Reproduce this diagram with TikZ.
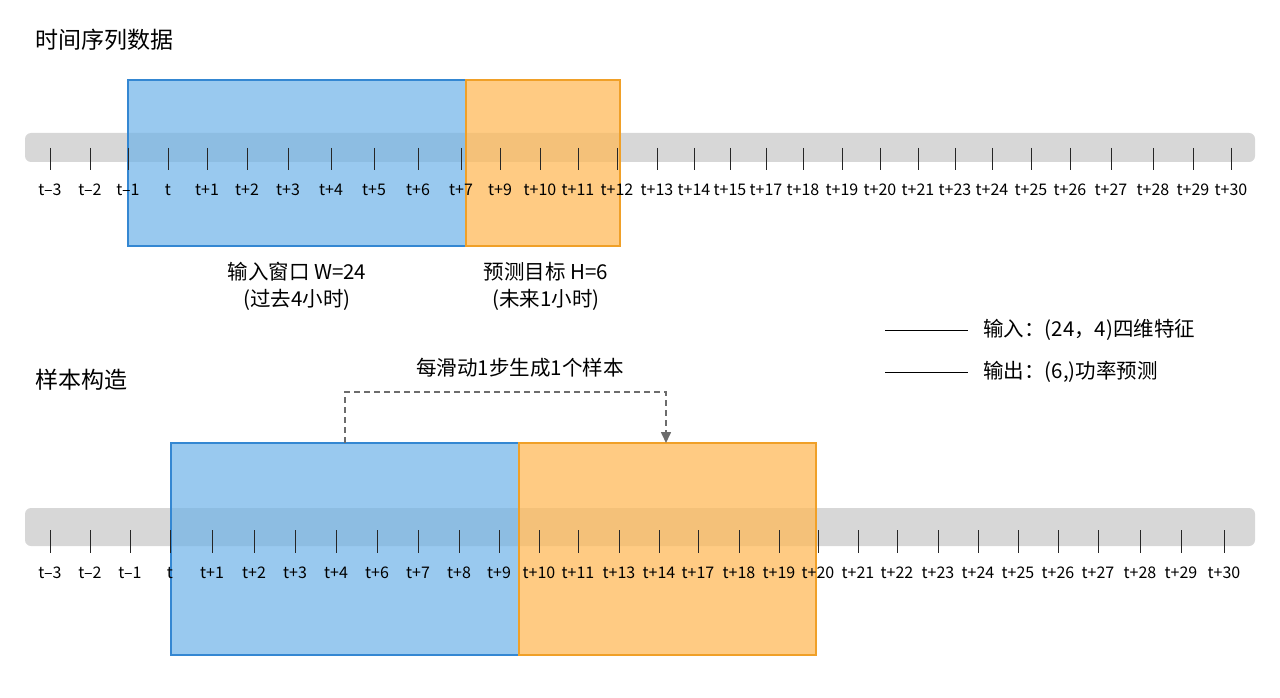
\documentclass[tikz,border=0pt]{standalone}
\usepackage{fontspec}
\setmainfont{Noto Sans CJK SC}
\usetikzlibrary{arrows.meta}
\definecolor{winblue}{RGB}{110,178,232}
\definecolor{winblueline}{RGB}{52,135,210}
\definecolor{tgtorange}{RGB}{255,186,90}
\definecolor{tgtline}{RGB}{240,160,40}
\definecolor{bargray}{RGB}{215,215,215}
\tikzset{
  bar/.style={fill=bargray, rounded corners=6pt, draw=none},
  tick/.style={line width=0.9pt, black!85},
  ticklabel/.style={font=\fontsize{16}{18}\selectfont, inner sep=0pt},
  inwin/.style={fill=winblue, fill opacity=0.7, draw=winblueline, line width=1.8pt},
  target/.style={fill=tgtorange, fill opacity=0.75, draw=tgtline, line width=1.8pt},
  title/.style={font=\fontsize{23}{26}\selectfont, anchor=west, inner sep=0pt},
  note/.style={font=\fontsize{20.5}{23}\selectfont, inner sep=0pt},
}
\begin{document}
\begin{tikzpicture}[x=1pt,y=-1pt]
    \useasboundingbox (0,0) rectangle (1280,698);

    % titles
    \node[title] (title1) at (35,40) {时间序列数据};
    \node[title] (title2) at (35,380) {样本构造};

    % top timeline
    \fill[bar] (25,133) rectangle (1255,162);
    \path[inwin] (128,80) rectangle (466,246);
    \path[target] (466,80) rectangle (620,246);
    \foreach \x/\l [count=\i] in {50/t–3,90/t–2,128/t–1,168/t,207/t+1,247/t+2,288/t+3,331/t+4,374/t+5,418/t+6,461/t+7,500/t+9,540/t+10,578/t+11,617/t+12,657/t+13,694/t+14,730/t+15,766/t+17,803/t+18,842/t+19,880/t+20,918/t+21,955/t+23,992/t+24,1031/t+25,1070/t+26,1111/t+27,1153/t+28,1193/t+29,1231/t+30}{
        \draw[tick] (\x,148) -- (\x,170);
        \node[ticklabel] (ta\i) at (\x,190) {\l};
    }
    \node[note] (inlabel) at (297,272) {输入窗口 W=24};
    \node[note] (inlabel2) at (297,300) {(过去4小时)};
    \node[note] (tglabel) at (546,272) {预测目标 H=6};
    \node[note] (tglabel2) at (546,300) {(未来1小时)};

    % legend
    \coordinate (lg1a) at (885,330);
    \coordinate (lg1b) at (968,330);
    \coordinate (lg2a) at (885,372);
    \coordinate (lg2b) at (968,372);
    \draw[line width=0.9pt] (lg1a) -- (lg1b);
    \draw[line width=0.9pt] (lg2a) -- (lg2b);
    \node[note, anchor=west] (lgtext1) at (983,330) {输入：(24，4)四维特征};
    \node[note, anchor=west] (lgtext2) at (983,372) {输出：(6,)功率预测};

    % bottom timeline
    \fill[bar] (25,508) rectangle (1255,546);
    \path[inwin] (171,443) rectangle (519,655);
    \path[target] (519,443) rectangle (816,655);
    \foreach \x/\l [count=\i] in {50/t–3,90/t–2,130/t–1,170/t,212/t+1,254/t+2,295/t+3,336/t+4,377/t+6,418/t+7,459/t+8,499/t+9,539/t+10,578/t+11,619/t+13,659/t+14,698/t+17,739/t+18,779/t+19,818/t+20,858/t+21,897/t+22,938/t+23,978/t+24,1018/t+25,1058/t+26,1098/t+27,1140/t+28,1181/t+29,1224/t+30}{
        \draw[tick] (\x,530) -- (\x,553);
        \node[ticklabel] (tb\i) at (\x,573) {\l};
    }

    % sliding arrow
    \coordinate (slA) at (345,443);
    \coordinate (slB) at (666,443);
    \node[note] (slide) at (520,368) {每滑动1步生成1个样本};
    \draw[gray!85!black, line width=1.6pt, dash pattern=on 6pt off 4pt, -{Triangle[length=11pt,width=10pt]}]
        (slA) |- (505,392) -| (slB);
\end{tikzpicture}
\end{document}
